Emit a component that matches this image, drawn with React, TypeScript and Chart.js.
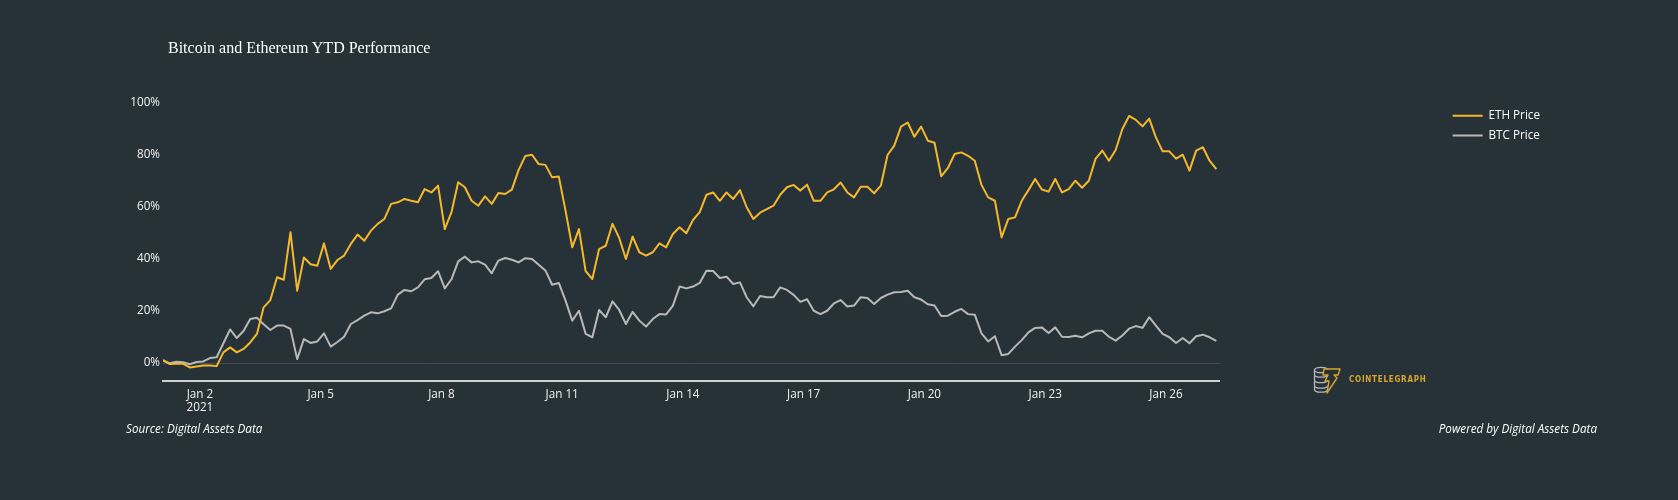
import React, { useEffect, useRef } from "react";
import { Chart, registerables } from "chart.js";

Chart.register(...registerables);

const TITLE = "Bitcoin and Ethereum YTD Performance";
const SOURCE_TEXT = "Source: Digital Assets Data";
const POWERED_TEXT = "Powered by Digital Assets Data";
const BRAND_TEXT = "COINTELEGRAPH";
const SERIES_NAMES = ["ETH Price", "BTC Price"];
const YEAR_LABEL = "2021";
const MONTH_LABEL = "Jan";

// time axis: hours after 2021-01-01 00:00
const START_HOUR = 2;
const STEP_HOURS = 4;
const AXIS_START_HOUR = 2;
const AXIS_END_HOUR = 632;
const X_TICK_DAYS = [2, 5, 8, 11, 14, 17, 20, 23, 26];
const Y_TICKS = [0, 20, 40, 60, 80, 100];
const Y_MIN = -6.92;
const Y_MAX = 100.38;

// YTD performance in %, one value every 4 hours
const ETH_PCT = [
  1.2, -0.4, -0.3, -0.3, -1.7, -1.3, -1.0, -1.0, -1.2, 4.1,
  6.0, 4.1, 5.4, 7.9, 11.2, 21.4, 24.2, 33.0, 32.0, 50.3,
  27.8, 40.6, 38.0, 37.4, 46.0, 36.2, 39.6, 41.3, 45.8, 49.4,
  47.0, 50.9, 53.5, 55.4, 61.2, 61.8, 63.1, 62.4, 61.8, 66.9,
  65.6, 68.2, 51.5, 58.0, 69.5, 67.6, 62.4, 60.5, 64.1, 61.2,
  65.4, 65.0, 66.7, 74.2, 79.6, 80.1, 76.5, 76.2, 71.4, 71.7,
  58.6, 44.5, 51.5, 35.3, 32.3, 43.8, 45.1, 53.5, 48.1, 40.0,
  48.6, 42.6, 41.3, 42.6, 46.0, 44.5, 49.6, 52.2, 49.9, 55.0,
  58.0, 64.7, 65.6, 62.4, 65.6, 63.1, 66.5, 59.9, 55.4, 57.8,
  59.2, 60.5, 64.7, 67.6, 68.5, 66.3, 68.6, 62.4, 62.4, 65.6,
  66.8, 69.4, 65.6, 63.7, 67.8, 67.8, 65.3, 68.2, 80.0, 83.6,
  90.9, 92.5, 87.0, 90.9, 85.5, 84.7, 71.8, 75.0, 80.4, 81.0,
  79.7, 77.8, 68.5, 63.7, 62.4, 48.3, 55.4, 56.0, 62.4, 66.5,
  70.8, 66.7, 65.9, 70.8, 65.6, 66.9, 70.1, 67.4, 70.1, 78.5,
  81.7, 77.8, 81.9, 90.0, 95.0, 93.5, 91.0, 94.0, 86.8, 81.4,
  81.4, 78.6, 80.1, 74.0, 81.7, 83.0, 77.8, 74.6,
];

const BTC_PCT = [
  0.9, -0.1, 0.5, 0.3, -0.5, 0.4, 0.6, 1.9, 2.2, 7.6,
  12.9, 9.6, 12.3, 16.9, 17.4, 14.9, 12.7, 14.4, 14.4, 13.1,
  1.5, 9.2, 7.7, 8.3, 11.4, 6.3, 8.1, 10.1, 15.0, 16.5,
  18.2, 19.5, 19.1, 19.9, 21.0, 26.3, 28.1, 27.6, 29.1, 32.2,
  32.7, 35.3, 28.7, 32.2, 39.1, 40.9, 38.7, 39.1, 37.8, 34.5,
  39.4, 40.4, 39.7, 38.7, 40.3, 40.0, 37.8, 35.6, 30.1, 30.8,
  24.0, 16.3, 20.1, 11.2, 9.9, 20.4, 17.6, 23.7, 20.4, 15.0,
  19.7, 16.3, 14.0, 16.9, 18.8, 18.7, 22.1, 29.4, 28.7, 29.4,
  30.8, 35.5, 35.4, 32.7, 33.2, 30.4, 31.0, 25.3, 21.8, 25.8,
  25.3, 25.3, 29.1, 28.1, 26.2, 23.5, 24.5, 20.1, 18.8, 20.1,
  22.9, 24.2, 21.7, 22.1, 25.3, 25.0, 22.7, 25.0, 26.3, 27.2,
  27.3, 27.8, 25.3, 24.4, 22.6, 22.1, 18.1, 18.2, 19.7, 20.8,
  18.8, 18.6, 11.4, 8.3, 10.3, 3.0, 3.5, 6.3, 8.8, 11.8,
  13.5, 13.7, 11.5, 13.7, 10.1, 10.0, 10.5, 9.9, 11.4, 12.4,
  12.4, 10.1, 8.6, 10.6, 13.2, 14.2, 13.5, 17.6, 14.4, 11.2,
  9.9, 7.7, 9.6, 7.6, 10.3, 10.9, 9.9, 8.5,
];

const ETH_COLOR = "#f5b82b";
const BTC_COLOR = "#b8b8b8";
const BG = "#263238";
const FONT = '"Open Sans", "DejaVu Sans", sans-serif';

function toPoints(values: number[]) {
  return values.map((v, i) => ({ x: START_HOUR + i * STEP_HOURS, y: v }));
}

function ChartCanvas() {
  const ref = useRef<HTMLCanvasElement | null>(null);
  useEffect(() => {
    const canvas = ref.current;
    if (!canvas) return;
    const chart = new Chart(canvas, {
      type: "line",
      data: {
        datasets: [
          {
            label: SERIES_NAMES[0],
            data: toPoints(ETH_PCT),
            borderColor: ETH_COLOR,
            backgroundColor: ETH_COLOR,
            borderWidth: 2,
            pointRadius: 0,
            tension: 0,
            borderJoinStyle: "round",
          },
          {
            label: SERIES_NAMES[1],
            data: toPoints(BTC_PCT),
            borderColor: BTC_COLOR,
            backgroundColor: BTC_COLOR,
            borderWidth: 2,
            pointRadius: 0,
            tension: 0,
            borderJoinStyle: "round",
          },
        ],
      },
      options: {
        responsive: false,
        animation: false,
        devicePixelRatio: 1,
        layout: { padding: { top: 102, left: 100, bottom: 79, right: 128 } },
        interaction: { mode: "nearest", intersect: false },
        plugins: {
          tooltip: { enabled: false },
          legend: {
            display: true,
            position: "right",
            align: "start",
            labels: {
              boxWidth: 30,
              boxHeight: 2,
              padding: 8,
              color: "#ffffff",
              font: { family: FONT, size: 11.7 },
              generateLabels: (c: any) =>
                Chart.defaults.plugins.legend.labels
                  .generateLabels(c)
                  .map((l: any) => ({ ...l, lineWidth: 0 })),
            },
          },
        },
        scales: {
          x: {
            type: "linear",
            min: AXIS_START_HOUR,
            max: AXIS_END_HOUR,
            afterBuildTicks: (s: any) => {
              s.ticks = X_TICK_DAYS.map((d) => ({ value: (d - 1) * 24 }));
            },
            afterFit: (s: any) => {
              s.height = 40;
            },
            grid: { display: false, drawTicks: false },
            border: { display: true, color: "#cfcfcf", width: 2 },
            ticks: {
              color: "#f2f2f2",
              padding: 7,
              maxRotation: 0,
              autoSkip: false,
              font: { family: FONT, size: 11.7, lineHeight: 1.1 },
              callback: (v: any, i: number) => {
                const day = Math.round(Number(v) / 24) + 1;
                const lbl = `${MONTH_LABEL} ${day}`;
                return i === 0 ? [lbl, YEAR_LABEL] : lbl;
              },
            },
          },
          y: {
            type: "linear",
            min: Y_MIN,
            max: Y_MAX,
            afterBuildTicks: (s: any) => {
              s.ticks = Y_TICKS.map((v) => ({ value: v }));
            },
            afterFit: (s: any) => {
              s.width = 63;
            },
            grid: {
              drawTicks: false,
              lineWidth: 1,
              color: (ctx: any) =>
                ctx.tick && ctx.tick.value === 0 ? "#4a4a4a" : "rgba(0,0,0,0)",
            },
            border: { display: false },
            ticks: {
              color: "#f2f2f2",
              padding: 3,
              font: { family: FONT, size: 11.7 },
              callback: (v: any) => `${v}%`,
            },
          },
          gap: {
            type: "linear",
            position: "right",
            min: 0,
            max: 1,
            display: true,
            afterFit: (s: any) => {
              s.width = 225;
            },
            grid: { display: false, drawTicks: false },
            border: { display: false },
            ticks: { display: false },
          },
        },
      },
    } as any);
    return () => chart.destroy();
  }, []);
  return (
    <canvas
      ref={ref}
      width={1678}
      height={500}
      style={{ position: "absolute", left: 0, top: 0, width: 1678, height: 500 }}
    />
  );
}

function Logo() {
  return (
    <div style={{ position: "absolute", left: 1312, top: 365, height: 30 }}>
      <svg width={32} height={30} style={{ position: "absolute", left: 0, top: 0 }}>
        <g fill="none" stroke="#b8b8b8" strokeWidth={1.3}>
          <ellipse cx={9} cy={5} rx={6.5} ry={2.7} />
          <path d="M2.5 5 v4.5 a6.5 2.7 0 0 0 13 0" />
          <path d="M2.5 10.5 v4.5 a6.5 2.7 0 0 0 13 0" />
          <path d="M2.5 16 v4.5 a6.5 2.7 0 0 0 13 0" />
          <path d="M2.5 21.5 v3 a6.5 2.7 0 0 0 13 0" />
        </g>
        <path
          d="M12 4 L28 4 L26 10 L22 10 L25 13 L15 28 L17 16 L13 16 L16 10 L11 10 Z"
          fill={BG}
          stroke="#d9a52c"
          strokeWidth={1.4}
          strokeLinejoin="round"
        />
      </svg>
      <span
        style={{
          position: "absolute",
          left: 37,
          top: 10,
          fontFamily: '"DejaVu Sans Condensed", "DejaVu Sans", sans-serif',
          fontWeight: 700,
          fontSize: 8,
          lineHeight: "10px",
          letterSpacing: 0.75,
          color: "#d9a52c",
          whiteSpace: "nowrap",
        }}
      >
        {BRAND_TEXT}
      </span>
    </div>
  );
}

export default function App() {
  return (
    <div
      style={{
        position: "fixed",
        left: 0,
        top: 0,
        width: 1678,
        height: 500,
        background: BG,
        overflow: "hidden",
      }}
    >
      <ChartCanvas />
      <div
        style={{
          position: "absolute",
          left: 168,
          top: 39.5,
          fontFamily: '"Liberation Serif", "Times New Roman", serif',
          fontSize: 16,
          lineHeight: 1,
          color: "#ffffff",
          whiteSpace: "nowrap",
        }}
      >
        {TITLE}
      </div>
      <div
        style={{
          position: "absolute",
          left: 126,
          top: 421,
          fontFamily: FONT,
          fontStyle: "italic",
          fontSize: 11.7,
          lineHeight: "14px",
          color: "#ffffff",
          whiteSpace: "nowrap",
        }}
      >
        {SOURCE_TEXT}
      </div>
      <div
        style={{
          position: "absolute",
          right: 81,
          top: 421,
          fontFamily: FONT,
          fontStyle: "italic",
          fontSize: 11.7,
          lineHeight: "14px",
          color: "#ffffff",
          whiteSpace: "nowrap",
        }}
      >
        {POWERED_TEXT}
      </div>
      <Logo />
    </div>
  );
}
